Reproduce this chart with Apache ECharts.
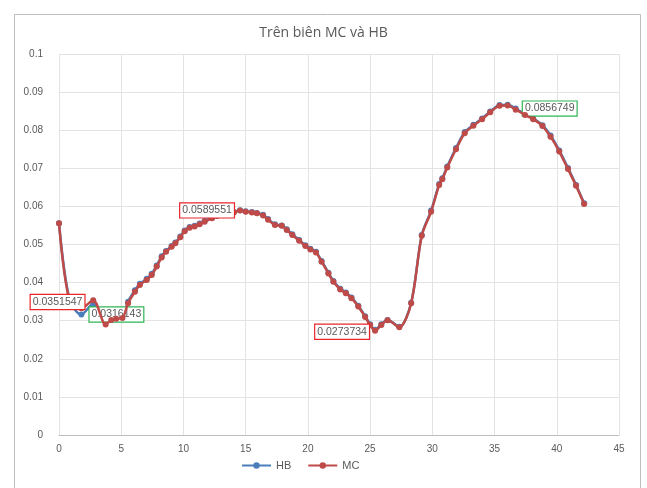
<!DOCTYPE html>
<html>
<head>
<meta charset="utf-8">
<script src="https://cdn.jsdelivr.net/npm/echarts@6/dist/echarts.min.js"></script>
<style>html,body{margin:0;padding:0;background:#fff}#c{width:647px;height:488px}</style>
</head>
<body>
<div id="c"></div>
<script>
const titleText = 'Trên biên MC và HB';
const xTicks = {min: 0, max: 45, interval: 5};
const yTicks = {min: 0, max: 0.1, interval: 0.01};

const mcX = [0,0.85,1.8,2.75,3.75,4.2,4.6,5.1,5.55,6.1,6.5,7.05,7.45,7.85,8.25,8.6,9.05,9.35,9.75,10.1,10.5,10.9,11.3,11.7,12.3,12.7,13.2,13.6,14.05,14.55,15.0,15.5,15.9,16.4,16.8,17.35,17.9,18.3,18.75,19.3,19.8,20.2,20.65,21.1,21.65,22.05,22.6,23.05,23.5,24.05,24.6,25.0,25.4,25.9,26.4,27.35,28.3,29.15,29.9,30.55,30.8,31.2,31.9,32.6,33.3,34.0,34.65,35.4,36.05,36.7,37.45,38.1,38.85,39.5,40.2,40.9,41.55,42.2];
const mcY = [0.0556,0.0351547,0.0333,0.0354,0.0290,0.0302,0.0305,0.0307,0.0346,0.0376,0.0394,0.0407,0.0420,0.0442,0.0466,0.0481,0.0494,0.0503,0.0519,0.0535,0.0544,0.0547,0.0553,0.0560,0.0569,0.0575,0.0577,0.0579,0.0584,0.0589551,0.0586,0.0584,0.0582,0.0576,0.0565,0.0551,0.0549,0.0538,0.0525,0.0510,0.0496,0.0487,0.0479,0.0455,0.0424,0.0402,0.0382,0.0372,0.0359,0.0337,0.0310,0.0289,0.0273734,0.0289,0.0301,0.0283,0.0346,0.0523,0.0586,0.0656,0.0671,0.0702,0.0750,0.0792,0.0812,0.0829,0.0847,0.0864,0.0865,0.0854,0.0840,0.0829,0.0811,0.0783,0.0744,0.0698,0.0654,0.0606];

const hbX = mcX.slice();
const hbY = [0.0556,0.0355,0.0316143,0.0344,0.0306,0.0305,0.0306,0.0309,0.0350,0.0380,0.0397,0.0410,0.0423,0.0445,0.0469,0.0483,0.0496,0.0505,0.0521,0.0537,0.0546,0.0549,0.0555,0.0562,0.0571,0.0576,0.0578,0.0580,0.0585,0.0590,0.0587,0.0585,0.0583,0.0578,0.0567,0.0553,0.0550,0.0540,0.0527,0.0512,0.0498,0.0489,0.0481,0.0457,0.0426,0.0404,0.0384,0.0374,0.0361,0.0339,0.0312,0.0291,0.0276,0.0291,0.0302,0.0284,0.0347,0.0525,0.0589,0.0659,0.0674,0.0705,0.0753,0.0795,0.0814,0.0831,0.0849,0.0866,0.0867,0.0856749,0.0842,0.0831,0.0813,0.0786,0.0747,0.0701,0.0656,0.0608];

// data-label annotations: [point index, box colour, offset]
const mcLabels = [[1,'#e8262a',[-12,1]],[29,'#e8262a',[-33,0]],[52,'#e8262a',[-33,1]]];
const hbLabels = [[2,'#2fb455',[35,0]],[69,'#2fb455',[34,0]]];

function labelStyle(color, offset){
  return {show:true, position:'inside', offset:offset, color:'#595959', fontSize:10.5,
    fontFamily:'Liberation Sans, Arial, sans-serif',
    backgroundColor:'#fff', borderColor:color, borderWidth:1.2, padding:[2,2,1,2],
    formatter: p => String(p.value[1])};
}
function build(xs, ys, labels){
  const d = xs.map((x,i)=>({value:[x, ys[i]]}));
  labels.forEach(([i,c,o])=>{ d[i].label = labelStyle(c,o); });
  return d;
}

const chart = echarts.init(document.getElementById('c'));
chart.setOption({
  animation:false,
  backgroundColor:'#fff',
  textStyle:{fontFamily:'Liberation Sans, Arial, sans-serif'},
  graphic:[{type:'rect', shape:{x:14.5,y:14.5,width:626,height:490}, style:{fill:'none', stroke:'#bfbfbf', lineWidth:1}, silent:true}],
  title:{text:titleText, left:'center', top:21, textStyle:{fontSize:14, fontWeight:'normal', color:'#595959', fontFamily:'Open Sans, Liberation Sans, sans-serif'}},
  legend:{top:455, left:236, itemGap:16, itemWidth:29, itemHeight:8, textStyle:{color:'#595959', fontSize:11},
    data:['HB','MC']},
  grid:{left:59, right:28, top:54, bottom:53},
  xAxis:{type:'value', min:xTicks.min, max:xTicks.max, interval:xTicks.interval,
    axisLine:{show:true, lineStyle:{color:'#bfbfbf'}}, axisTick:{show:false},
    axisLabel:{color:'#595959', fontSize:10, margin:9},
    splitLine:{show:true, lineStyle:{color:'#e3e3e3'}}},
  yAxis:{type:'value', min:yTicks.min, max:yTicks.max, interval:yTicks.interval,
    axisLine:{show:false}, axisTick:{show:false},
    axisLabel:{color:'#595959', fontSize:10, margin:16, formatter:v=>String(+v.toFixed(2))},
    splitLine:{show:true, lineStyle:{color:'#e3e3e3'}}},
  series:[
    {name:'HB', type:'line', smooth:0.3, symbol:'circle', symbolSize:6,
      itemStyle:{color:'#4a7ebb'}, lineStyle:{width:2.5, color:'#4a7ebb'},
      data:build(hbX,hbY,hbLabels), z:2},
    {name:'MC', type:'line', smooth:0.3, symbol:'circle', symbolSize:6,
      itemStyle:{color:'#be4b48'}, lineStyle:{width:2.5, color:'#be4b48'},
      data:build(mcX,mcY,mcLabels), z:3}
  ]
});
</script>
</body>
</html>
